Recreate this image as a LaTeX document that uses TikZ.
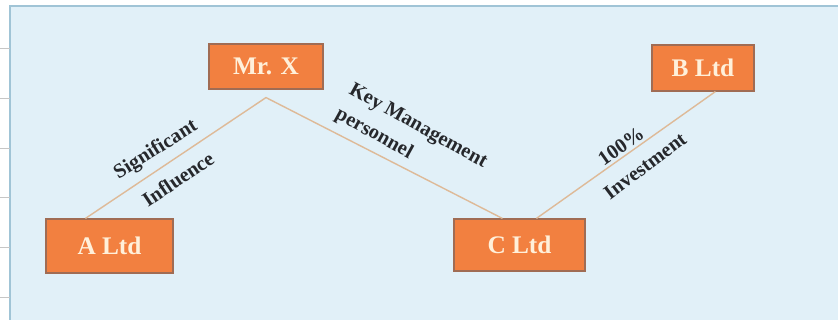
\documentclass[tikz,border=0pt]{standalone}
\usepackage{fontspec}
\setmainfont{Liberation Serif}
\usepackage{tikz}
\usetikzlibrary{positioning, calc}
\definecolor{myorange}{RGB}{242,128,64}
\definecolor{myedge}{RGB}{160,108,84}
\definecolor{mycream}{RGB}{255,240,218}
\definecolor{mysky}{RGB}{225,240,248}
\definecolor{myframe}{RGB}{160,196,214}
\definecolor{mytan}{RGB}{222,186,152}
\definecolor{myink}{RGB}{38,40,44}
\tikzstyle{ltd} = [rectangle, draw=myedge, fill=myorange, line width=0.8pt, text=mycream, font=\fontsize{18}{20}\selectfont\bfseries, align=center]
\tikzstyle{link} = [draw=mytan, line width=1pt]
\tikzstyle{tag} = [text=myink, font=\fontsize{14.5}{20}\selectfont\bfseries, inner sep=0pt]

\begin{document}
\begin{tikzpicture}[x=0.025cm, y=-0.025cm]
\useasboundingbox (0,0) rectangle (838,320);
% page background
\fill[mysky] (10,6) rectangle (838,320);
\draw[myframe, line width=0.8pt] (10,320) -- (10,6) -- (838,6);
\foreach \y in {48,98,148,197,247,297}
  \draw[gray!45, line width=0.6pt] (0,\y) -- (10,\y);

\node[ltd, minimum width=2.85cm, minimum height=1.125cm] (mrx) at (266,66.5) {Mr. X};
\node[ltd, minimum width=3.175cm, minimum height=1.35cm] (altd) at (109.5,246) {A Ltd};
\node[ltd, minimum width=3.275cm, minimum height=1.3cm] (cltd) at (519.5,245) {C Ltd};
\node[ltd, minimum width=2.55cm, minimum height=1.15cm] (bltd) at (703,68) {B Ltd};

\coordinate (apex) at ($(mrx.south)+(0,8)$);
\coordinate (ain) at ($(altd.north west)+(40,0)$);
\coordinate (cin) at ($(cltd.north west)+(49,0)$);
\coordinate (cout) at ($(cltd.north west)+(83,0)$);
\coordinate (bin) at ($(bltd.south west)+(64,0)$);

\draw[link] (ain) -- (apex) -- (cin);
\draw[link] (cout) -- (bin);

\node[tag, rotate=32] (sig) at (156,150) {Significant};
\node[tag, rotate=34] (infl) at (178,179) {Influence};
\node[tag, rotate=-29, align=left] (kmp) at (411,139) {Key Management\\personnel};
\node[tag, rotate=35] (pct) at (621,146) {100\%};
\node[tag, rotate=37] (inv) at (645,166) {Investment};
\end{tikzpicture}
\end{document}
